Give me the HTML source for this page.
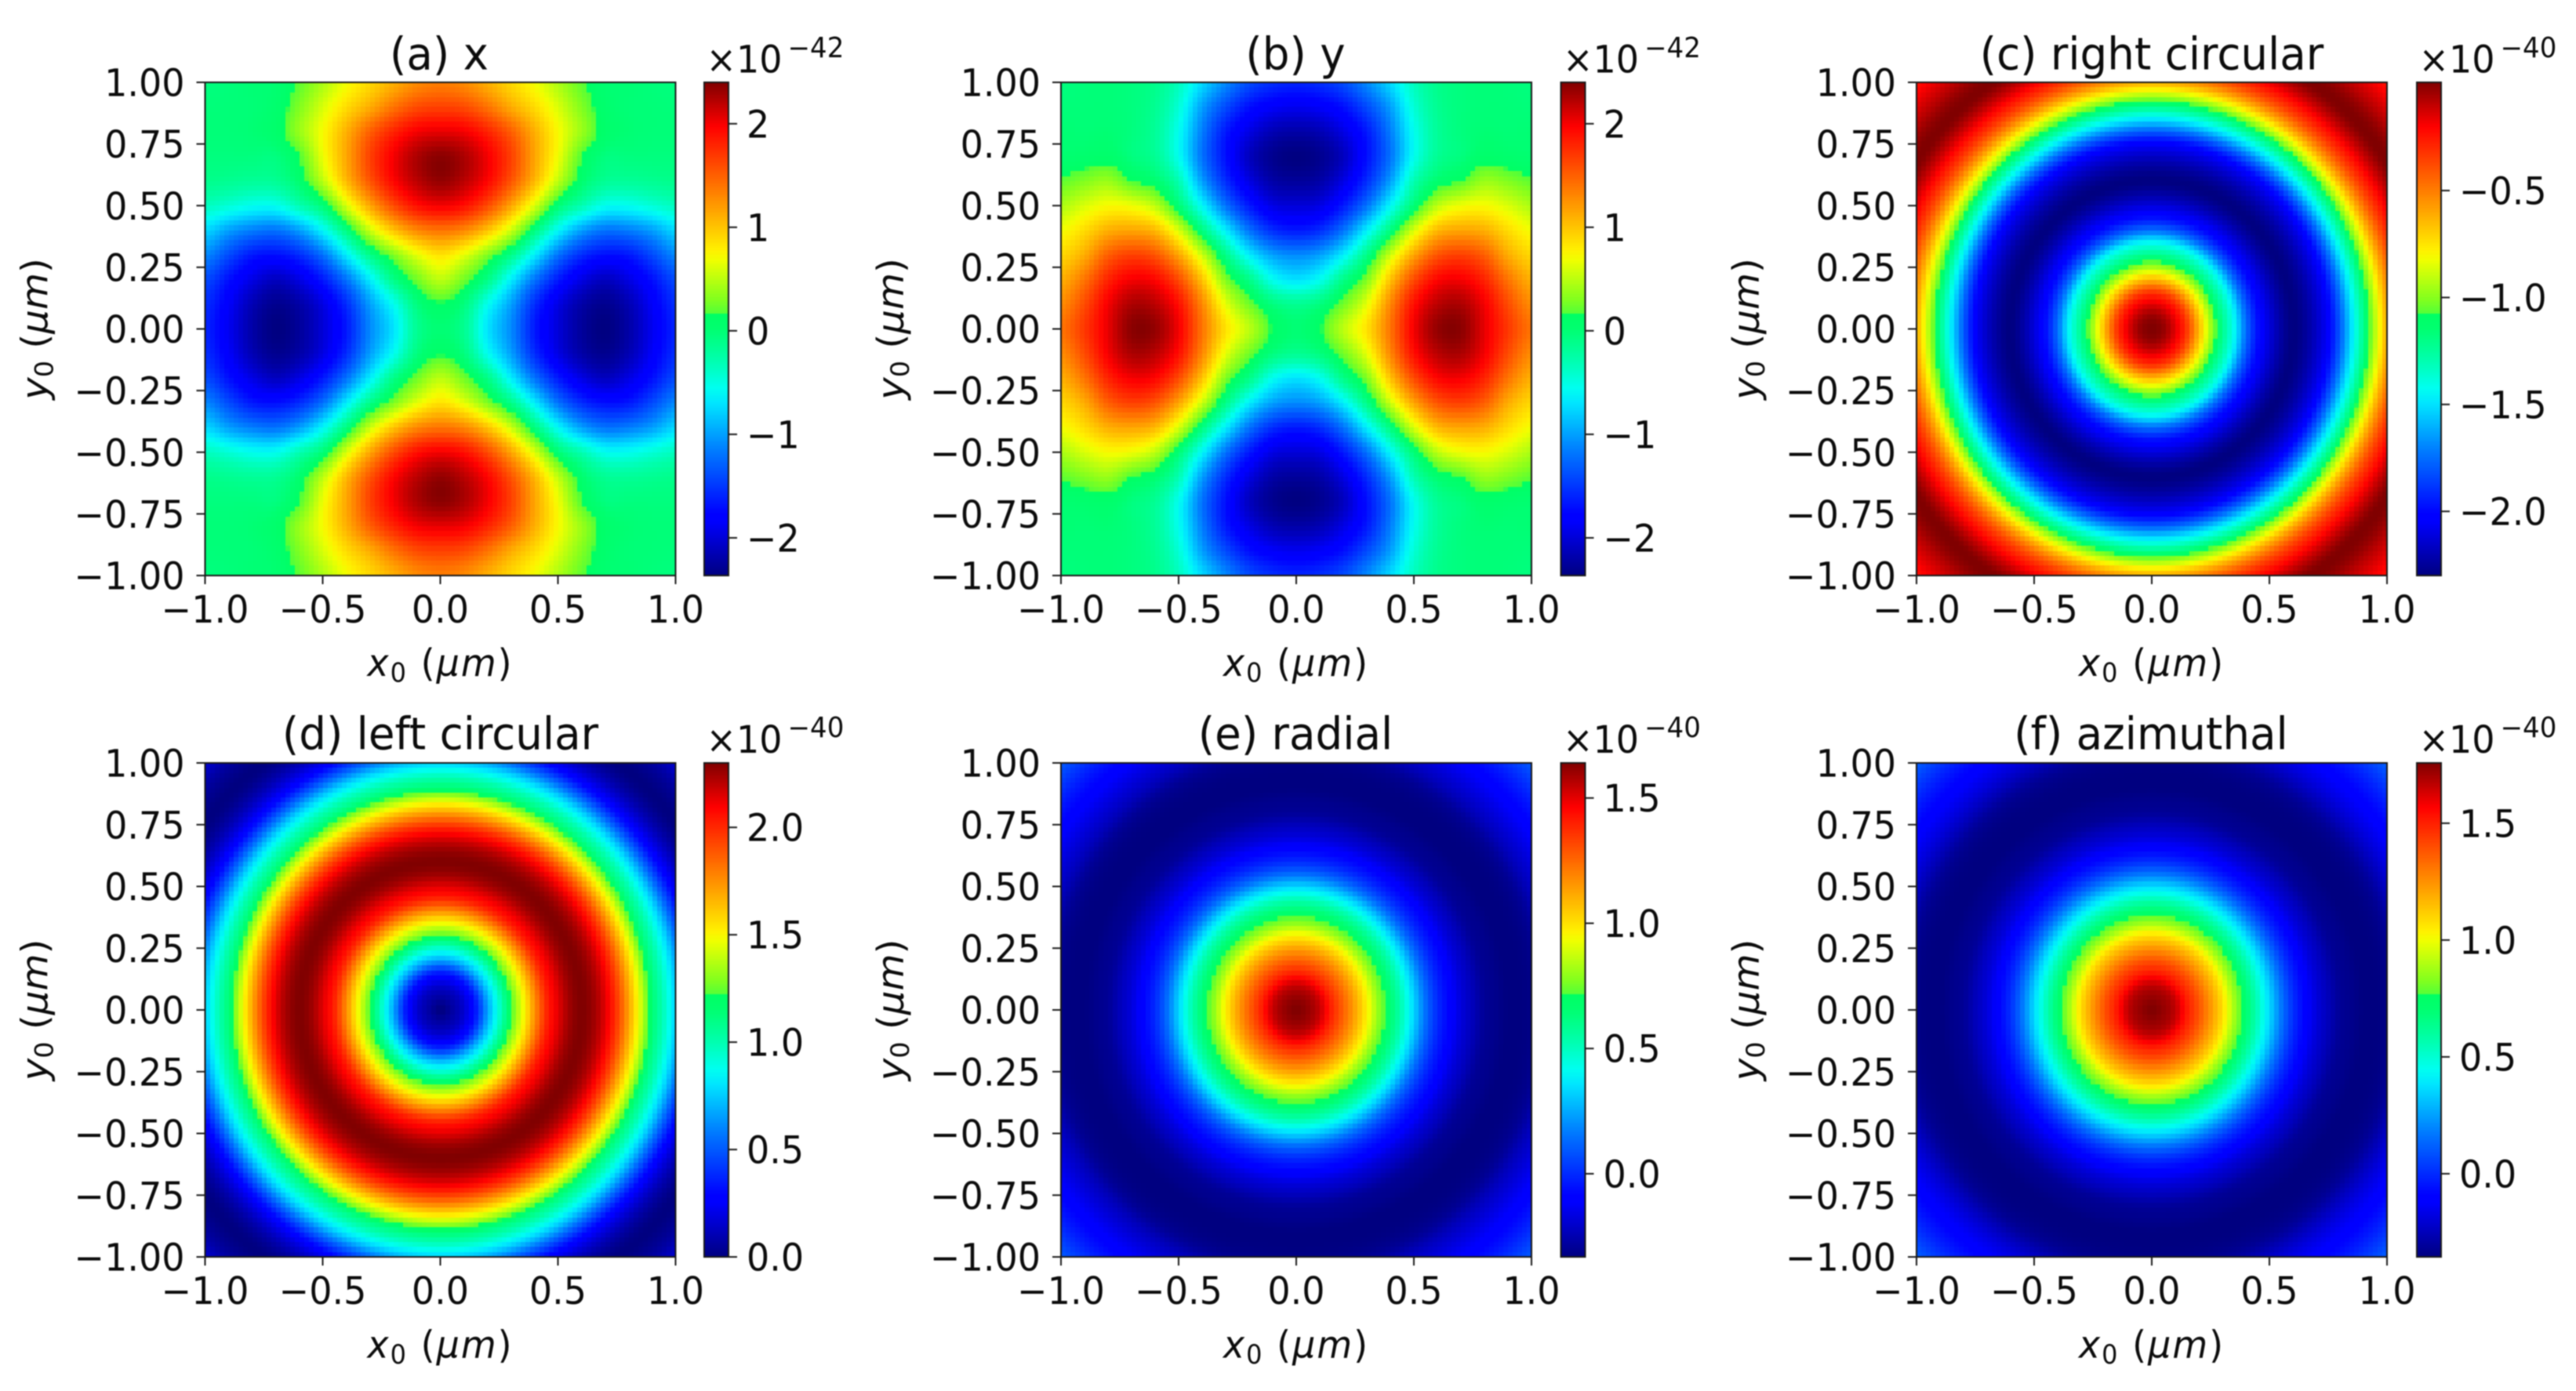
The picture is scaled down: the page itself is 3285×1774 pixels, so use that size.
<!DOCTYPE html>
<html lang="en">
<head>
<meta charset="utf-8">
<title>Six polarization heatmaps</title>
<style>
  html, body { margin: 0; padding: 0; background: #fff; }
  svg { display: block; filter: blur(0.9px); }
  text { font-family: "DejaVu Sans", "Liberation Sans", sans-serif; fill: #0c0c0c; font-size: 46px; }
  .ttl { font-size: 54.7px; }
  .sc { font-size: 32px; }
  .sup { font-size: 34px; }
  .it { font-style: italic; }
  .axl { letter-spacing: 2px; }
</style>
</head>
<body>
<svg id="fig" xmlns="http://www.w3.org/2000/svg" width="3285" height="1774" viewBox="0 0 3285 1774">
  <rect width="3285" height="1774" fill="#fff"/>

  <g id="panel-a"></g>
  <g id="panel-b"></g>
  <g id="panel-c"></g>
  <g id="panel-d"></g>
  <g id="panel-e"></g>
  <g id="panel-f"></g>

  <text class="ttl" text-anchor="middle" transform="translate(560,88.5) scale(1,1.05)">(a) x</text>
  <text class="ttl" text-anchor="middle" transform="translate(1652,88.5) scale(1,1.05)">(b) y</text>
  <text class="ttl" text-anchor="middle" transform="translate(2744,88.5) scale(1,1.05)">(c) right circular</text>
  <text class="ttl" text-anchor="middle" transform="translate(561.5,955.5) scale(1,1.05)">(d) left circular</text>
  <text class="ttl" text-anchor="middle" transform="translate(1652,955.5) scale(1,1.05)">(e) radial</text>
  <text class="ttl" text-anchor="middle" transform="translate(2743,955.5) scale(1,1.05)">(f) azimuthal</text>

  <text class="axl" text-anchor="middle" transform="translate(561.5,862) scale(1,1.05)"><tspan class="it">x</tspan><tspan class="sc" dy="7">0</tspan><tspan dy="-7"> (</tspan><tspan class="it">μm</tspan>)</text>
  <text class="axl" text-anchor="middle" transform="translate(1653,862) scale(1,1.05)"><tspan class="it">x</tspan><tspan class="sc" dy="7">0</tspan><tspan dy="-7"> (</tspan><tspan class="it">μm</tspan>)</text>
  <text class="axl" text-anchor="middle" transform="translate(2744,862) scale(1,1.05)"><tspan class="it">x</tspan><tspan class="sc" dy="7">0</tspan><tspan dy="-7"> (</tspan><tspan class="it">μm</tspan>)</text>
  <text class="axl" text-anchor="middle" transform="translate(561.5,1731.5) scale(1,1.05)"><tspan class="it">x</tspan><tspan class="sc" dy="7">0</tspan><tspan dy="-7"> (</tspan><tspan class="it">μm</tspan>)</text>
  <text class="axl" text-anchor="middle" transform="translate(1653,1731.5) scale(1,1.05)"><tspan class="it">x</tspan><tspan class="sc" dy="7">0</tspan><tspan dy="-7"> (</tspan><tspan class="it">μm</tspan>)</text>
  <text class="axl" text-anchor="middle" transform="translate(2744,1731.5) scale(1,1.05)"><tspan class="it">x</tspan><tspan class="sc" dy="7">0</tspan><tspan dy="-7"> (</tspan><tspan class="it">μm</tspan>)</text>

  <text text-anchor="middle" transform="translate(60.5,419.5) scale(1,1.05) rotate(-90)"><tspan class="it">y</tspan><tspan class="sc" dy="7">0</tspan><tspan dy="-7"> (</tspan><tspan class="it">μm</tspan>)</text>
  <text text-anchor="middle" transform="translate(1152,419.5) scale(1,1.05) rotate(-90)"><tspan class="it">y</tspan><tspan class="sc" dy="7">0</tspan><tspan dy="-7"> (</tspan><tspan class="it">μm</tspan>)</text>
  <text text-anchor="middle" transform="translate(2243,419.5) scale(1,1.05) rotate(-90)"><tspan class="it">y</tspan><tspan class="sc" dy="7">0</tspan><tspan dy="-7"> (</tspan><tspan class="it">μm</tspan>)</text>
  <text text-anchor="middle" transform="translate(60.5,1288) scale(1,1.05) rotate(-90)"><tspan class="it">y</tspan><tspan class="sc" dy="7">0</tspan><tspan dy="-7"> (</tspan><tspan class="it">μm</tspan>)</text>
  <text text-anchor="middle" transform="translate(1152,1288) scale(1,1.05) rotate(-90)"><tspan class="it">y</tspan><tspan class="sc" dy="7">0</tspan><tspan dy="-7"> (</tspan><tspan class="it">μm</tspan>)</text>
  <text text-anchor="middle" transform="translate(2243,1288) scale(1,1.05) rotate(-90)"><tspan class="it">y</tspan><tspan class="sc" dy="7">0</tspan><tspan dy="-7"> (</tspan><tspan class="it">μm</tspan>)</text>

  <text transform="translate(900.5,92.7) scale(1,1.05)">×10<tspan class="sup" dx="7" dy="-19">−42</tspan></text>
  <text transform="translate(1993,92.7) scale(1,1.05)">×10<tspan class="sup" dx="7" dy="-19">−42</tspan></text>
  <text transform="translate(3084.5,92.7) scale(1,1.05)">×10<tspan class="sup" dx="7" dy="-19">−40</tspan></text>
  <text transform="translate(900.5,960) scale(1,1.05)">×10<tspan class="sup" dx="7" dy="-19">−40</tspan></text>
  <text transform="translate(1993,960) scale(1,1.05)">×10<tspan class="sup" dx="7" dy="-19">−40</tspan></text>
  <text transform="translate(3084.5,960) scale(1,1.05)">×10<tspan class="sup" dx="7" dy="-19">−40</tspan></text>
</svg>

<script>
// ---------- tick data ----------
const xTicks = [-1, -0.5, 0, 0.5, 1];
const xTickLabels = ['−1.0', '−0.5', '0.0', '0.5', '1.0'];
const yTicks = [-1, -0.75, -0.5, -0.25, 0, 0.25, 0.5, 0.75, 1];
const yTickLabels = ['−1.00', '−0.75', '−0.50', '−0.25', '0.00', '0.25', '0.50', '0.75', '1.00'];

const cbarTicksAB = [-2, -1, 0, 1, 2];
const cbarLabelsAB = ['−2', '−1', '0', '1', '2'];
const cbarTicksC = [-2, -1.5, -1, -0.5];
const cbarLabelsC = ['−2.0', '−1.5', '−1.0', '−0.5'];
const cbarTicksD = [0, 0.5, 1, 1.5, 2];
const cbarLabelsD = ['0.0', '0.5', '1.0', '1.5', '2.0'];
const cbarTicksEF = [0, 0.5, 1, 1.5];
const cbarLabelsEF = ['0.0', '0.5', '1.0', '1.5'];

// ---------- colour limits (colorbar ends) ----------
const climA = [-2.364, 2.40];
const climB = [-2.364, 2.40];
const climC = [-2.30, 0.006];
const climD = [0, 2.30];
const climE = [-0.332, 1.64];
const climF = [-0.356, 1.758];

// ---------- panel (a): quadrant samples every 0.1 µm; rows y=0..1, columns x=0..1 ----------
const gridA = [
  [0, -0.15, -0.7, -1.1, -1.65, -2.0, -2.25, -2.36, -2.2, -1.9, -1.6],
  [0.14, -0.05, -0.55, -1.0, -1.55, -1.95, -2.2, -2.3, -2.15, -1.85, -1.55],
  [0.5, 0.25, -0.1, -0.65, -1.2, -1.65, -1.95, -2.1, -1.95, -1.7, -1.4],
  [0.85, 0.65, 0.3, -0.1, -0.65, -1.2, -1.55, -1.7, -1.65, -1.4, -1.1],
  [1.4, 1.3, 1.0, 0.55, -0.05, -0.6, -1.0, -1.2, -1.15, -1.0, -0.75],
  [2.0, 1.9, 1.6, 1.15, 0.6, 0.0, -0.3, -0.55, -0.55, -0.45, -0.35],
  [2.33, 2.2, 1.95, 1.55, 1.05, 0.5, 0.04, -0.16, -0.18, -0.15, -0.12],
  [2.36, 2.25, 2.0, 1.65, 1.15, 0.68, 0.17, -0.05, -0.05, -0.05, -0.05],
  [2.05, 2.0, 1.8, 1.5, 1.1, 0.72, 0.38, 0.08, 0, -0.02, -0.02],
  [1.65, 1.6, 1.4, 1.12, 0.88, 0.6, 0.3, 0.05, -0.01, -0.02, -0.03],
  [1.35, 1.28, 1.1, 0.9, 0.7, 0.45, 0.2, 0.02, 0, -0.03, -0.05]
];

// ---------- panel (b): quadrant samples every 0.1 µm ----------
const gridB = [
  [0, 0.14, 0.5, 0.85, 1.4, 2.0, 2.33, 2.36, 2.05, 1.7, 1.4],
  [-0.15, -0.05, 0.25, 0.65, 1.3, 1.9, 2.2, 2.25, 2.0, 1.6, 1.28],
  [-0.7, -0.55, -0.1, 0.3, 1.0, 1.6, 1.95, 2.0, 1.8, 1.4, 1.1],
  [-1.1, -1.0, -0.65, -0.1, 0.55, 1.15, 1.55, 1.65, 1.5, 1.12, 0.9],
  [-1.65, -1.55, -1.2, -0.65, -0.05, 0.6, 1.05, 1.15, 1.1, 0.88, 0.7],
  [-2.0, -1.95, -1.65, -1.2, -0.6, 0.0, 0.5, 0.68, 0.72, 0.6, 0.45],
  [-2.25, -2.2, -1.95, -1.55, -1.0, -0.3, 0.04, 0.17, 0.38, 0.3, 0.2],
  [-2.36, -2.3, -2.1, -1.7, -1.2, -0.55, -0.16, -0.05, 0.08, 0.05, 0.02],
  [-2.2, -2.15, -1.95, -1.65, -1.15, -0.55, -0.18, -0.05, 0, -0.01, 0],
  [-1.9, -1.85, -1.7, -1.4, -1.0, -0.45, -0.15, -0.05, -0.02, -0.02, -0.03],
  [-1.6, -1.55, -1.4, -1.1, -0.75, -0.35, -0.12, -0.05, -0.02, -0.03, -0.05]
];

// ---------- panels (c)-(f): values read against distance from centre, every 0.05 µm ----------
const profileC = [0.006, -0.029, -0.155, -0.34, -0.64, -0.951, -1.216, -1.435, -1.747, -1.977, -2.116, -2.231, -2.30, -2.254, -2.162, -2.035, -1.793, -1.493, -1.216, -0.916, -0.617, -0.386, -0.225, -0.086, 0.006, -0.017, -0.086, -0.155, -0.225, -0.271];
const profileD = [0, 0.069, 0.161, 0.345, 0.667, 0.943, 1.219, 1.472, 1.748, 2.001, 2.139, 2.254, 2.30, 2.254, 2.139, 1.955, 1.702, 1.426, 1.15, 0.966, 0.759, 0.506, 0.276, 0.138, 0.046, 0, 0.023, 0.069, 0.138, 0.184];
const profileE = [1.64, 1.61, 1.541, 1.394, 1.265, 1.127, 0.97, 0.792, 0.654, 0.506, 0.329, 0.141, 0.003, -0.085, -0.174, -0.233, -0.293, -0.312, -0.332, -0.332, -0.322, -0.293, -0.233, -0.184, -0.135, -0.085, -0.036, 0.023, 0.082, 0.122];
const profileF = [1.758, 1.726, 1.663, 1.515, 1.388, 1.24, 1.082, 0.881, 0.712, 0.542, 0.363, 0.173, 0.014, -0.092, -0.187, -0.25, -0.314, -0.335, -0.356, -0.356, -0.345, -0.314, -0.25, -0.187, -0.134, -0.081, -0.028, 0.035, 0.099, 0.141];

const gridStep = 0.1;
const profileStep = 0.05;
const cellsPerAxis = 100;

// Colormap as seen on the reference colorbar: t, r, g, b
const cmapT = [0, 0.11, 0.125, 0.25, 0.35, 0.38, 0.44, 0.5, 0.53, 0.532, 0.56, 0.64, 0.66, 0.78, 0.91, 1];
const cmapR = [0, 0, 0, 0, 0, 0, 0, 0, 0, 85, 130, 240, 255, 255, 255, 128];
const cmapG = [0, 0, 0, 120, 230, 255, 255, 255, 255, 255, 255, 255, 240, 125, 0, 0];
const cmapB = [128, 255, 255, 255, 255, 240, 170, 112, 100, 55, 30, 0, 0, 0, 0, 0];

// ---------- layout ----------
const NS = 'http://www.w3.org/2000/svg';
const colLeft = [261.5, 1353, 2444];
const rowTop = [105, 973];
const rowBottom = [734, 1603];
const cbarLeft = [898, 1990.5, 3082];
const axWidth = 600;
const cbarWidth = 31;
const inkColor = '#1a1a1a';

function jetColor(t) {
  const v = Math.max(0, Math.min(1, t));
  let k = 0;
  while (k < cmapT.length - 2 && v > cmapT[k + 1]) k++;
  const f = (v - cmapT[k]) / (cmapT[k + 1] - cmapT[k]);
  const r = Math.round(cmapR[k] + (cmapR[k + 1] - cmapR[k]) * f);
  const g = Math.round(cmapG[k] + (cmapG[k + 1] - cmapG[k]) * f);
  const b = Math.round(cmapB[k] + (cmapB[k + 1] - cmapB[k]) * f);
  return 'rgb(' + r + ',' + g + ',' + b + ')';
}

function smooth(a, b, c, d, t) {
  return 0.5 * (2 * b + (c - a) * t + (2 * a - 5 * b + 4 * c - d) * t * t + (3 * b - a - 3 * c + d) * t * t * t);
}

function sampleProfile(arr, r) {
  const u = r / profileStep;
  const i = Math.min(arr.length - 2, Math.floor(u));
  const at = function (k) { return arr[Math.min(arr.length - 1, Math.abs(k))]; };
  return smooth(at(i - 1), at(i), at(i + 1), at(i + 2), u - i);
}

function sampleGrid(grid, x, y) {
  const last = grid.length - 1;
  const ux = x / gridStep;
  const uy = y / gridStep;
  const ix = Math.min(last - 1, Math.floor(ux));
  const iy = Math.min(last - 1, Math.floor(uy));
  const at = function (k) { return Math.min(last, Math.abs(k)); };
  const rows = [];
  for (let j = -1; j <= 2; j++) {
    const row = grid[at(iy + j)];
    rows.push(smooth(row[at(ix - 1)], row[at(ix)], row[at(ix + 1)], row[at(ix + 2)], ux - ix));
  }
  return smooth(rows[0], rows[1], rows[2], rows[3], uy - iy);
}

function drawPanel(id, col, row, clim, valueAt, cbarTicks, cbarLabels) {
  const g = document.getElementById(id);
  const left = colLeft[col];
  const top = rowTop[row];
  const bottom = rowBottom[row];
  const xScale = function (v) { return left + (v + 1) / 2 * axWidth; };
  const yScale = function (v) { return bottom - (v + 1) / 2 * (bottom - top); };
  const cbarScale = function (v) { return bottom - (v - clim[0]) / (clim[1] - clim[0]) * (bottom - top); };
  const norm = function (v) { return (v - clim[0]) / (clim[1] - clim[0]); };

  const frag = document.createDocumentFragment();

  // heatmap cells
  for (let j = 0; j < cellsPerAxis; j++) {
    const yLo = -1 + 2 * j / cellsPerAxis;
    const yHi = -1 + 2 * (j + 1) / cellsPerAxis;
    const py0 = Math.round(yScale(yHi));
    const py1 = Math.round(yScale(yLo));
    for (let i = 0; i < cellsPerAxis; i++) {
      const xLo = -1 + 2 * i / cellsPerAxis;
      const xHi = -1 + 2 * (i + 1) / cellsPerAxis;
      const px0 = Math.round(xScale(xLo));
      const px1 = Math.round(xScale(xHi));
      const value = valueAt(Math.abs((xLo + xHi) / 2), Math.abs((yLo + yHi) / 2));
      const cell = document.createElementNS(NS, 'rect');
      
      
      cell.setAttribute('x', px0);
      cell.setAttribute('y', py0);
      cell.setAttribute('width', px1 - px0);
      cell.setAttribute('height', py1 - py0);
      cell.setAttribute('fill', jetColor(norm(value)));
      cell.setAttribute('shape-rendering', 'crispEdges');
      frag.appendChild(cell);
    }
  }

  // axes frame
  const frame = document.createElementNS(NS, 'rect');
  
  
  frame.setAttribute('x', left);
  frame.setAttribute('y', top);
  frame.setAttribute('width', axWidth);
  frame.setAttribute('height', bottom - top);
  frame.setAttribute('fill', 'none');
  frame.setAttribute('stroke', inkColor);
  frame.setAttribute('stroke-width', '2');
  frag.appendChild(frame);

  // x ticks
  xTicks.forEach(function (v, k) {
    const tick = document.createElementNS(NS, 'line');
    
    
    tick.setAttribute('x1', xScale(v));
    tick.setAttribute('x2', xScale(v));
    tick.setAttribute('y1', bottom);
    tick.setAttribute('y2', bottom + 11);
    tick.setAttribute('stroke', inkColor);
    tick.setAttribute('stroke-width', '2');
    frag.appendChild(tick);
    const label = document.createElementNS(NS, 'text');
    
    
    label.setAttribute('text-anchor', 'middle');
    label.setAttribute('transform', 'translate(' + xScale(v) + ',' + (bottom + 60) + ') scale(1,1.05)');
    label.textContent = xTickLabels[k];
    frag.appendChild(label);
  });

  // y ticks
  yTicks.forEach(function (v, k) {
    const tick = document.createElementNS(NS, 'line');
    
    
    tick.setAttribute('x1', left - 11);
    tick.setAttribute('x2', left);
    tick.setAttribute('y1', yScale(v));
    tick.setAttribute('y2', yScale(v));
    tick.setAttribute('stroke', inkColor);
    tick.setAttribute('stroke-width', '2');
    frag.appendChild(tick);
    const label = document.createElementNS(NS, 'text');
    
    
    label.setAttribute('text-anchor', 'end');
    label.setAttribute('transform', 'translate(' + (left - 26) + ',' + (yScale(v) + 17.5) + ') scale(1,1.05)');
    label.textContent = yTickLabels[k];
    frag.appendChild(label);
  });

  // colorbar
  const cbL = cbarLeft[col];
  const steps = 256;
  for (let k = 0; k < steps; k++) {
    const vLo = clim[0] + (clim[1] - clim[0]) * k / steps;
    const vHi = clim[0] + (clim[1] - clim[0]) * (k + 1) / steps;
    const y0 = Math.round(cbarScale(vHi));
    const y1 = Math.round(cbarScale(vLo));
    if (y1 <= y0) continue;
    const swatch = document.createElementNS(NS, 'rect');
    
    
    swatch.setAttribute('x', cbL);
    swatch.setAttribute('y', y0);
    swatch.setAttribute('width', cbarWidth);
    swatch.setAttribute('height', y1 - y0);
    swatch.setAttribute('fill', jetColor(norm((vLo + vHi) / 2)));
    swatch.setAttribute('shape-rendering', 'crispEdges');
    frag.appendChild(swatch);
  }
  const cbFrame = document.createElementNS(NS, 'rect');
  
  
  cbFrame.setAttribute('x', cbL);
  cbFrame.setAttribute('y', top);
  cbFrame.setAttribute('width', cbarWidth);
  cbFrame.setAttribute('height', bottom - top);
  cbFrame.setAttribute('fill', 'none');
  cbFrame.setAttribute('stroke', inkColor);
  cbFrame.setAttribute('stroke-width', '2');
  frag.appendChild(cbFrame);

  cbarTicks.forEach(function (v, k) {
    const tick = document.createElementNS(NS, 'line');
    
    
    tick.setAttribute('x1', cbL + cbarWidth);
    tick.setAttribute('x2', cbL + cbarWidth + 11);
    tick.setAttribute('y1', cbarScale(v));
    tick.setAttribute('y2', cbarScale(v));
    tick.setAttribute('stroke', inkColor);
    tick.setAttribute('stroke-width', '2');
    frag.appendChild(tick);
    const label = document.createElementNS(NS, 'text');
    
    
    label.setAttribute('transform', 'translate(' + (cbL + cbarWidth + 23) + ',' + (cbarScale(v) + 17.5) + ') scale(1,1.05)');
    label.textContent = cbarLabels[k];
    frag.appendChild(label);
  });

  g.appendChild(frag);
}

function radial(arr) {
  return function (x, y) { return sampleProfile(arr, Math.sqrt(x * x + y * y)); };
}
function gridded(grid) {
  return function (x, y) { return sampleGrid(grid, x, y); };
}

drawPanel('panel-a', 0, 0, climA, gridded(gridA), cbarTicksAB, cbarLabelsAB);
drawPanel('panel-b', 1, 0, climB, gridded(gridB), cbarTicksAB, cbarLabelsAB);
drawPanel('panel-c', 2, 0, climC, radial(profileC), cbarTicksC, cbarLabelsC);
drawPanel('panel-d', 0, 1, climD, radial(profileD), cbarTicksD, cbarLabelsD);
drawPanel('panel-e', 1, 1, climE, radial(profileE), cbarTicksEF, cbarLabelsEF);
drawPanel('panel-f', 2, 1, climF, radial(profileF), cbarTicksEF, cbarLabelsEF);
</script>
</body>
</html>
